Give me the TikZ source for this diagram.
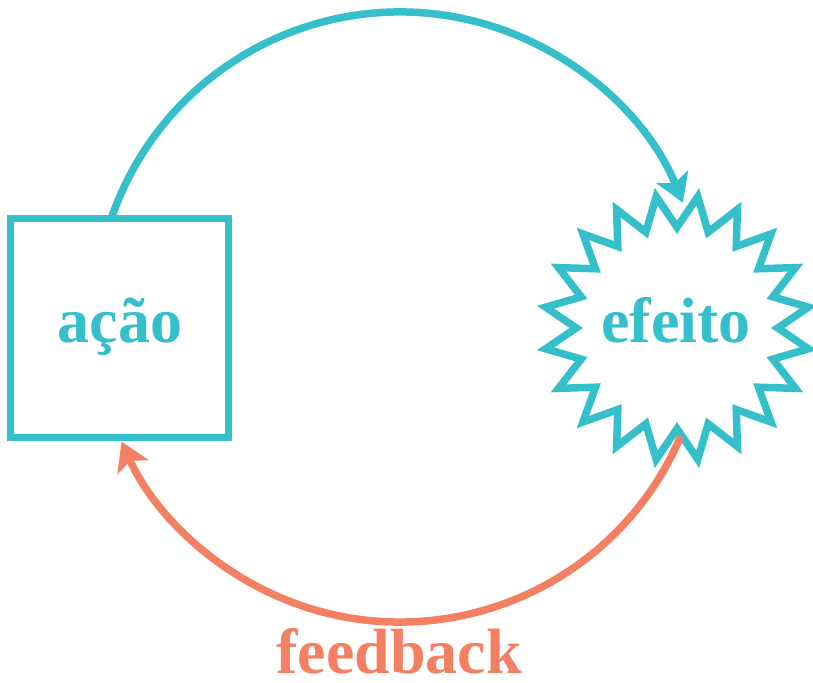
\documentclass[tikz,border=0pt]{standalone}
\usepackage{fontspec}
\setmainfont{Liberation Serif}
\usetikzlibrary{shapes.geometric,arrows.meta,calc}
\definecolor{teal1}{HTML}{34BFCB}
\definecolor{coral1}{HTML}{F48064}
\begin{document}
\begin{tikzpicture}[x=1pt,y=1pt,
  boxshape/.style={draw=teal1,line width=7.5pt,rectangle,minimum width=218pt,minimum height=219pt,inner sep=0pt},
  starshape/.style={draw=teal1,fill=white,line width=7.5pt,star,star points=20,star point ratio=1.32,minimum size=266pt,inner sep=0pt,shape border rotate=9},
  lbl/.style={font=\fontsize{64}{70}\selectfont\bfseries,anchor=base,inner sep=0pt},
  loop/.style={line width=7.5pt},
  tipA/.style={-{Stealth[length=28pt,width=34pt,inset=7pt]}}
]
\useasboundingbox (0,0) rectangle (813,682);
\coordinate (O) at (400,365);
\coordinate (s1) at ($(O)+(161.2:305)$);
\coordinate (s2) at ($(O)+(-23:305)$);
% arcs
\draw[loop,teal1,tipA] (s1) arc[start angle=161.2,end angle=22,radius=305];
\node[starshape] (star) at (677,354) {};
\draw[loop,coral1,tipA] (s2) arc[start angle=-23,end angle=-155.9,radius=305];
\node[boxshape] (box) at (119.5,354) {};
% labels
\node[lbl,text=teal1] (acao) at (120,339) {ação};
\node[lbl,text=teal1] (efeito) at (676,339) {efeito};
\node[lbl,text=coral1] (feedback) at (399,9) {feedback};
\end{tikzpicture}
\end{document}
